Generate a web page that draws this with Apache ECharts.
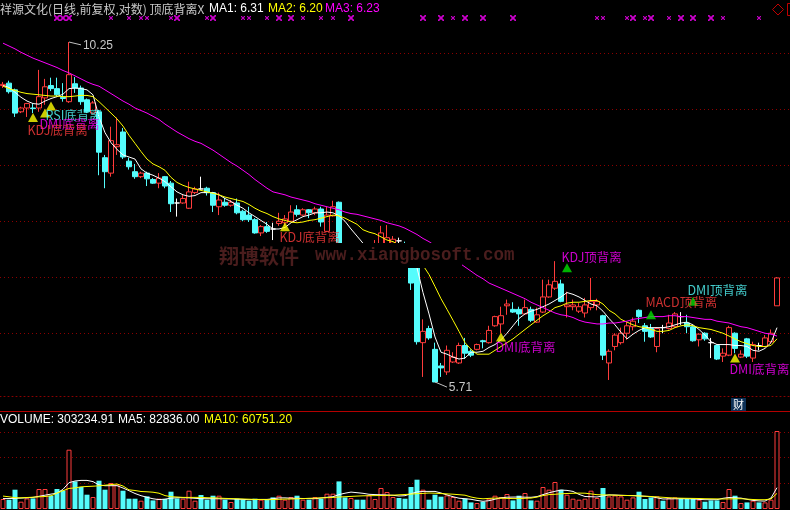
<!DOCTYPE html>
<html><head><meta charset="utf-8">
<script src="https://cdn.jsdelivr.net/npm/echarts@6/dist/echarts.min.js"></script>
<style>html,body{margin:0;padding:0;background:#000;}#c{width:790px;height:510px;}</style>
</head><body><div id="c"></div>
<script>
// ---------- data ----------
const days = Array.from({length: 130}, (_, i) => 'D' + (i + 1));
const opens = [9.51,9.55,9.44,9.09,9.15,9.15,9.15,9.31,9.51,9.46,
9.32,9.25,9.54,9.47,9.28,9.07,9.09,8.40,8.18,8.56,
8.78,8.35,8.20,8.13,8.18,8.09,8.04,8.13,8.04,7.77,
7.77,7.70,7.91,7.96,7.97,7.91,7.72,7.78,7.74,7.77,
7.66,7.61,7.55,7.38,7.46,7.43,7.50,7.51,7.53,7.68,
7.61,7.68,7.64,7.69,7.40,7.60,7.78,7.14,7.00,7.12,
7.07,7.02,7.09,7.17,7.22,7.25,7.28,7.24,7.17,7.02,
6.11,6.26,6.04,5.87,5.81,5.91,5.90,6.08,6.02,6.04,
6.13,6.11,6.29,6.31,6.51,6.47,6.47,6.42,6.47,6.33,
6.44,6.61,6.71,6.76,6.50,6.50,6.45,6.43,6.49,6.52,
6.40,5.90,6.07,6.11,6.21,6.28,6.46,6.29,6.26,6.07,
6.27,6.26,6.28,6.39,6.32,6.28,6.14,6.21,6.11,6.08,
5.97,5.98,6.21,5.96,6.15,5.95,6.08,6.07,6.12,6.51];
const closes = [9.53,9.41,9.07,9.15,9.22,9.14,9.33,9.49,9.46,9.36,
9.30,9.69,9.47,9.25,9.09,9.23,8.48,8.20,8.65,8.59,
8.41,8.27,8.13,8.18,8.10,8.04,8.11,8.00,7.76,7.77,
7.83,7.92,7.96,7.96,7.91,7.74,7.81,7.74,7.78,7.64,
7.55,7.55,7.38,7.46,7.40,7.43,7.53,7.56,7.65,7.62,
7.68,7.64,7.69,7.52,7.61,7.72,7.07,7.02,7.12,7.02,
6.98,7.17,7.20,7.38,7.32,7.30,7.28,7.02,6.77,6.12,
6.23,6.16,5.71,5.85,6.03,5.96,6.08,6.00,5.98,6.09,
6.12,6.24,6.39,6.40,6.53,6.44,6.42,6.49,6.35,6.41,
6.61,6.75,6.79,6.56,6.52,6.52,6.50,6.52,6.56,6.56,
5.98,6.02,6.19,6.21,6.29,6.34,6.39,6.23,6.17,6.26,
6.27,6.32,6.42,6.39,6.28,6.13,6.20,6.15,6.11,5.94,
6.00,6.27,6.05,5.99,5.97,6.09,6.08,6.16,6.21,6.83];
const highs = [9.57,9.59,9.46,9.17,9.23,9.22,9.77,9.62,9.64,9.64,
9.55,10.25,9.65,9.51,9.30,9.26,9.12,8.44,8.86,9.00,
8.84,8.40,8.31,8.20,8.20,8.11,8.18,8.14,8.07,7.83,
7.88,8.06,7.99,8.13,7.99,7.92,7.91,7.84,7.81,7.83,
7.68,7.72,7.57,7.48,7.52,7.51,7.64,7.61,7.74,7.74,
7.70,7.69,7.72,7.72,7.72,7.80,7.79,7.22,7.17,7.14,
7.11,7.22,7.29,7.47,7.48,7.34,7.32,7.27,7.19,7.07,
6.36,6.29,6.11,5.90,6.08,6.01,6.11,6.16,6.04,6.10,
6.14,6.29,6.40,6.50,6.58,6.55,6.50,6.58,6.50,6.49,
6.81,6.81,7.03,6.81,6.67,6.58,6.54,6.60,6.83,6.59,
6.41,6.04,6.21,6.27,6.33,6.38,6.47,6.32,6.31,6.27,
6.30,6.41,6.44,6.44,6.41,6.30,6.21,6.22,6.16,6.09,
6.05,6.29,6.22,6.03,6.16,6.12,6.11,6.19,6.25,6.84];
const lows = [9.47,9.38,9.01,9.07,9.01,9.07,9.09,9.20,9.42,9.33,
9.25,9.23,9.39,9.20,9.07,9.06,8.15,7.97,8.13,8.44,
8.38,8.23,8.10,8.11,8.00,8.03,7.97,7.97,7.65,7.59,
7.76,7.69,7.89,7.95,7.87,7.65,7.61,7.72,7.72,7.62,
7.53,7.52,7.37,7.34,7.38,7.29,7.47,7.47,7.52,7.59,
7.60,7.57,7.61,7.46,7.39,7.59,7.02,6.95,6.95,6.96,
6.95,6.97,7.02,7.09,7.17,7.22,7.17,6.95,6.69,6.09,
5.76,6.14,5.71,5.76,5.78,5.90,5.89,5.94,5.96,6.03,
6.05,6.10,6.28,6.21,6.41,6.43,6.29,6.41,6.33,6.32,
6.43,6.60,6.69,6.55,6.38,6.46,6.43,6.38,6.46,6.46,
5.93,5.73,6.03,6.09,6.14,6.24,6.32,6.12,6.16,6.01,
6.21,6.25,6.27,6.30,6.21,6.12,6.07,6.13,5.95,5.93,
5.91,5.97,6.00,5.95,5.95,5.91,6.03,6.06,6.10,6.51];
const ma1 = [9.51,9.48,9.40,9.32,9.26,9.22,9.21,9.26,9.30,9.33,
9.37,9.46,9.47,9.46,9.44,9.36,9.01,8.77,8.62,8.52,
8.44,8.41,8.38,8.24,8.18,8.15,8.11,8.06,7.99,7.92,
7.88,7.86,7.87,7.91,7.91,7.91,7.88,7.83,7.79,7.74,
7.70,7.64,7.59,7.54,7.49,7.43,7.43,7.45,7.51,7.55,
7.59,7.61,7.64,7.64,7.65,7.64,7.60,7.53,7.43,7.34,
7.25,7.18,7.13,7.11,7.09,7.09,7.08,7.06,7.01,6.95,
6.66,6.42,6.17,6.01,5.99,5.96,5.94,5.95,6.01,6.01,
6.02,6.06,6.09,6.14,6.21,6.29,6.37,6.42,6.45,6.47,
6.50,6.53,6.57,6.61,6.66,6.64,6.61,6.57,6.53,6.51,
6.45,6.37,6.30,6.22,6.15,6.20,6.24,6.27,6.27,6.27,
6.27,6.28,6.30,6.32,6.33,6.30,6.25,6.19,6.12,6.09,
6.09,6.09,6.08,6.08,6.07,6.03,6.02,6.05,6.11,6.27];
const ma2 = [9.50,9.46,9.43,9.40,9.38,9.37,9.36,9.35,9.34,9.34,
9.33,9.33,9.34,9.35,9.35,9.33,9.25,9.16,9.07,8.98,
8.87,8.73,8.61,8.49,8.38,8.31,8.27,8.22,8.12,8.05,
8.01,7.98,7.96,7.94,7.92,7.90,7.88,7.85,7.83,7.81,
7.79,7.75,7.70,7.66,7.63,7.59,7.56,7.54,7.52,7.51,
7.52,7.54,7.55,7.57,7.59,7.61,7.60,7.57,7.53,7.49,
7.42,7.39,7.37,7.33,7.29,7.27,7.23,7.18,7.11,7.04,
6.98,6.87,6.73,6.59,6.47,6.35,6.23,6.11,6.04,5.99,
5.99,5.99,6.03,6.07,6.11,6.15,6.20,6.25,6.30,6.35,
6.40,6.44,6.49,6.51,6.54,6.55,6.55,6.56,6.57,6.57,
6.53,6.46,6.42,6.36,6.33,6.30,6.28,6.27,6.25,6.23,
6.23,6.24,6.27,6.29,6.30,6.29,6.27,6.26,6.25,6.23,
6.21,6.18,6.15,6.12,6.10,6.08,6.07,6.07,6.08,6.15];
const ma3 = [10.23,10.18,10.13,10.07,10.02,9.97,9.93,9.89,9.85,9.81,
9.76,9.72,9.67,9.62,9.57,9.53,9.50,9.44,9.38,9.32,
9.26,9.21,9.15,9.11,9.07,9.02,8.97,8.90,8.84,8.78,
8.73,8.68,8.64,8.61,8.56,8.51,8.45,8.39,8.33,8.28,
8.22,8.16,8.09,8.03,7.97,7.92,7.90,7.88,7.85,7.83,
7.81,7.79,7.76,7.74,7.72,7.70,7.68,7.65,7.63,7.62,
7.60,7.58,7.56,7.54,7.51,7.49,7.47,7.44,7.40,7.36,
7.31,7.27,7.22,7.17,7.12,7.07,7.01,6.96,6.91,6.86,
6.82,6.77,6.74,6.71,6.68,6.65,6.62,6.59,6.55,6.52,
6.49,6.46,6.43,6.41,6.40,6.38,6.35,6.33,6.32,6.31,
6.31,6.32,6.32,6.33,6.34,6.36,6.37,6.38,6.39,6.39,
6.39,6.40,6.40,6.39,6.39,6.38,6.37,6.36,6.36,6.34,
6.33,6.32,6.30,6.28,6.27,6.25,6.23,6.21,6.20,6.18];
const volumes = [38880,36160,75040,28380,41210,41210,77760,77760,51710,77760,
72320,230560,107310,85540,55600,46660,110030,75040,101090,94480,
71150,40050,40050,32270,48990,33440,40050,38880,67260,41210,
40050,71150,32270,54430,36160,51710,51710,36160,27220,40050,
36160,32270,40050,36160,36160,45100,51710,36160,46660,51710,
36160,36160,46660,40050,59490,59490,107310,45100,42770,36160,
36160,52880,38880,81650,66100,46660,42770,40050,85540,113920,
75040,36160,55600,47820,52880,46660,32270,40050,25660,23170,
28380,40050,51710,46660,58320,33440,51710,62210,33440,32270,
85540,75040,104980,75040,55600,40050,36160,40050,71150,42770,
81650,48990,52880,48990,36160,45100,67260,38880,45100,48990,
32270,42770,45100,41210,38880,40050,36160,28380,33440,33440,
27220,77760,51710,23170,25660,32270,25660,25660,36160,303234.91];
const volMa5 = [40400,40800,41200,42400,43500,45100,49400,53700,57900,61400,
76600,102300,108900,111200,111200,106500,93300,90600,90600,90600,
81600,71200,60300,51700,45500,39700,36500,38500,42000,43900,
43900,43200,41600,40000,40000,40000,39700,39300,38900,38100,
37300,36200,36900,37300,37300,40000,43200,43200,42000,41600,
40800,40400,40000,42800,45500,47800,56000,61400,65700,63400,
61000,57200,56000,55200,54400,53300,50500,51700,59500,66100,
68400,68400,68400,62200,54800,47800,42000,40000,37700,33400,
29900,32300,38100,43200,45900,46300,46700,45900,45500,48200,
56000,63000,68800,73500,72300,68400,56800,48600,47800,46700,
50900,54800,54400,53300,52500,52100,51300,49400,48200,43500,
38900,39300,39700,40000,40000,39300,37300,36200,36200,36200,
41600,44700,43500,42400,37700,33400,31500,30700,42800,82836];
const volMa10 = [50200,47400,43900,43500,44700,45900,47400,48600,51300,61800,
71200,80000,82000,86200,87500,88600,90200,92500,94900,97200,
89400,74600,71900,68000,66900,65300,61400,52100,47800,46700,
45100,45100,45100,45100,43900,43200,42400,41200,40400,39700,
38900,38100,37300,36900,36200,36900,37700,38500,38900,39700,
40400,41600,42400,43200,43900,45100,46700,47800,49000,50200,
51300,51700,52100,52500,52900,53700,55200,56400,57900,59500,
60700,62200,61400,59900,58700,57500,55600,53700,46700,42000,
39700,41200,42400,42000,41200,40400,40400,41600,42400,46300,
52100,56000,57200,59100,60300,61000,61800,61400,58700,55600,
54800,54400,53700,52900,52500,51700,50500,49800,48600,47000,
45500,43900,42800,42000,41600,41200,40800,40000,39700,39300,
38900,39300,39700,40000,38500,36900,36200,36200,38900,60751.2];
// signal marks
const bottomTriIdx = [5,7,8,47,83,122];
const bottomTriPrice = [9.00,9.07,9.18,7.46,6.17,5.95];
const topTriIdx = [94,108,115];
const topTriPrice = [6.95,6.41,6.56];
const sigText = ['RSI底背离','DMI底背离','KDJ底背离','KDJ底背离','DMI底背离','KDJ顶背离','MACD顶背离','DMI顶背离','DMI底背离'];
const sigIdx = [7,6,4,46,82,93,107,114,121];
const sigPrice = [9.04,8.90,8.80,7.33,6.06,7.08,6.55,6.69,5.84];
const crossBigIdx = [9,10,11,29,35,46,48,58,70,73,77,80,85,105,108,113,115,118];
const crossSmallIdx = [18,21,23,24,28,34,40,41,44,50,53,55,75,99,100,104,107,111,120,126];
const titleMA = ['6.31','6.20','6.23'];

// ---------- styles ----------
const RED = '#ff3c3c', CYAN = '#54fcfc', MAG = '#ff00ff', YEL = '#ffff00', GRID = '#8c0000';
const sigColors = [CYAN, MAG, RED, RED, MAG, MAG, RED, CYAN, MAG];
const FONT = '"Liberation Sans","Noto Sans CJK SC",sans-serif';
const CJK = '"Noto Sans CJK SC","Liberation Sans",sans-serif';
const WM = '#4a1d1d';
const VMAX = 381024;
const crossPath = 'path://M0 0L2 0L5 3L8 0L10 0L10 2L7 5L10 8L10 10L8 10L5 7L2 10L0 10L0 8L3 5L0 2Z';

const hiIdx = highs.indexOf(Math.max(...highs));
const loIdx = lows.indexOf(Math.min(...lows));

const hidden = {show:false};
const chart = echarts.init(document.getElementById('c'), null, {renderer:'canvas'});
const option = {
  backgroundColor:'#000',
  animation:false,
  grid:[
    {left:0, top:20, width:780, height:376},            // 0 price
    {left:0, right:0, top:53, height:280},             // 1 price grid lines
    {left:0, right:0, top:395, height:1},              // 2 price bottom line
    {left:0, top:13, width:780, height:10},            // 3 cross marks
    {left:0, top:411, width:780, height:98},           // 4 volume
    {left:0, right:0, top:411, height:98}              // 5 volume grid lines
  ],
  xAxis:[
    {type:'category', gridIndex:0, data:days, boundaryGap:true, axisLine:hidden, axisTick:hidden, axisLabel:hidden, splitLine:hidden},
    {type:'value', gridIndex:1, min:0, max:1, show:false},
    {type:'value', gridIndex:2, min:0, max:1, axisLine:{show:true, lineStyle:{color:GRID, type:[1,3]}}, axisTick:hidden, axisLabel:hidden, splitLine:hidden},
    {type:'category', gridIndex:3, data:days, boundaryGap:true, show:false},
    {type:'category', gridIndex:4, data:days, boundaryGap:true, axisLine:hidden, axisTick:hidden, axisLabel:hidden, splitLine:hidden},
    {type:'value', gridIndex:5, position:'top', min:0, max:1, axisLine:{show:true, onZero:false, lineStyle:{color:'#b40000', width:1}}, axisTick:hidden, axisLabel:hidden, splitLine:hidden}
  ],
  yAxis:[
    {type:'log', logBase:10, gridIndex:0, min:5.5741, max:10.6459, axisLine:hidden, axisTick:hidden, axisLabel:hidden, splitLine:hidden},
    {type:'value', gridIndex:1, min:0, max:5, interval:1, axisLine:hidden, axisTick:hidden, axisLabel:hidden, splitLine:{show:true, lineStyle:{color:GRID, type:[1,3]}}},
    {type:'value', gridIndex:2, min:0, max:1, show:false},
    {type:'value', gridIndex:3, min:0, max:2, show:false},
    {type:'value', gridIndex:4, min:0, max:VMAX, axisLine:hidden, axisTick:hidden, axisLabel:hidden, splitLine:hidden},
    {type:'value', gridIndex:5, min:0, max:VMAX, interval:100000, axisLine:hidden, axisTick:hidden, axisLabel:hidden, splitLine:{show:true, showMinLine:false, showMaxLine:false, lineStyle:{color:GRID, type:[1,3]}}}
  ],
  series:[
    {type:'candlestick', xAxisIndex:0, yAxisIndex:0, barWidth:5,
     data: opens.map((o,i)=>[o, closes[i], lows[i], highs[i]]),
     itemStyle:{color:'rgba(0,0,0,0)', color0:CYAN, borderColor:RED, borderColor0:CYAN, borderColorDoji:'#ffffff', borderWidth:1},
     markLine:{silent:true, symbol:['none','none'], animation:false,
       lineStyle:{color:'#c0c0c0', width:1, type:'solid'},
       label:{show:true, position:'end', distance:2, color:'#c8c8c8', fontSize:12, fontFamily:FONT},
       data:[
         [{coord:[hiIdx, highs[hiIdx]], label:{formatter:highs[hiIdx].toFixed(2)}}, {coord:[hiIdx+2, 10.20]}],
         [{coord:[loIdx, lows[loIdx]], label:{formatter:lows[loIdx].toFixed(2)}}, {coord:[loIdx+2, 5.66]}]
       ]}
    },
    {type:'line', name:'MA1', xAxisIndex:0, yAxisIndex:0, data:ma1, symbol:'none', lineStyle:{color:'#ffffff', width:1}},
    {type:'line', name:'MA2', xAxisIndex:0, yAxisIndex:0, data:ma2, symbol:'none', lineStyle:{color:YEL, width:1}},
    {type:'line', name:'MA3', xAxisIndex:0, yAxisIndex:0, data:ma3, symbol:'none', lineStyle:{color:MAG, width:1}},
    {type:'scatter', xAxisIndex:0, yAxisIndex:0, symbol:'triangle', symbolSize:[10,9], itemStyle:{color:YEL},
     data: bottomTriIdx.map((x,k)=>[x, bottomTriPrice[k]]), z:4},
    {type:'scatter', xAxisIndex:0, yAxisIndex:0, symbol:'triangle', symbolSize:[10,9], itemStyle:{color:'#00e000'},
     data: topTriIdx.map((x,k)=>[x, topTriPrice[k]]), z:4},
    {type:'scatter', xAxisIndex:0, yAxisIndex:0, symbolSize:1, itemStyle:{color:'rgba(0,0,0,0)'}, z:5,
     label:{show:true, position:'right', distance:0, fontSize:12.5, fontFamily:CJK,
       formatter:p=>sigText[p.dataIndex]},
     data: sigIdx.map((x,k)=>({value:[x, sigPrice[k]], label:{color:sigColors[k]}}))},
    {type:'scatter', xAxisIndex:3, yAxisIndex:3, symbol:crossPath, symbolSize:6, itemStyle:{color:MAG},
     data: crossBigIdx.map(x=>[x,1])},
    {type:'scatter', xAxisIndex:3, yAxisIndex:3, symbol:crossPath, symbolSize:4, itemStyle:{color:MAG},
     data: crossSmallIdx.map(x=>[x,1])},
    {type:'bar', xAxisIndex:4, yAxisIndex:4, barWidth:5,
     data: volumes.map((v,i)=>({value:v, itemStyle: closes[i] > opens[i]
        ? {color:'#000', borderColor:RED, borderWidth:1}
        : {color:CYAN, borderColor:CYAN, borderWidth:0}}))},
    {type:'line', xAxisIndex:4, yAxisIndex:4, data:volMa5, symbol:'none', lineStyle:{color:'#ffffff', width:1}},
    {type:'line', xAxisIndex:4, yAxisIndex:4, data:volMa10, symbol:'none', lineStyle:{color:YEL, width:1}}
  ],
  graphic:[
    {type:'rect', z:50, shape:{x:215, y:243, width:247, height:25}, style:{fill:'#000'}},
    {type:'text', z:51, x:219, y:256, style:{text:'翔博软件', fill:WM, font:'bold 20px "Noto Sans CJK SC"', verticalAlign:'middle'}},
    {type:'text', z:51, x:315, y:256, style:{text:'www.xiangbosoft.com', fill:WM, font:'bold 17.5px "Liberation Mono"', verticalAlign:'middle'}},
    {type:'text', z:60, x:0, y:9, style:{text:'祥源文化(日线,前复权,对数) 顶底背离X', fill:'#c8c8c8', font:'12px '+CJK, verticalAlign:'middle'}},
    {type:'text', z:60, x:209, y:9, style:{text:'MA1: '+titleMA[0], fill:'#ffffff', font:'12px '+FONT, verticalAlign:'middle'}},
    {type:'text', z:60, x:268, y:9, style:{text:'MA2: '+titleMA[1], fill:YEL, font:'12px '+FONT, verticalAlign:'middle'}},
    {type:'text', z:60, x:325, y:9, style:{text:'MA3: '+titleMA[2], fill:MAG, font:'12px '+FONT, verticalAlign:'middle'}},
    {type:'text', z:60, x:0, y:420, style:{text:'VOLUME: '+volumes[129].toFixed(2), fill:'#ffffff', font:'12px '+FONT, verticalAlign:'middle'}},
    {type:'text', z:60, x:118, y:420, style:{text:'MA5: '+volMa5[129].toFixed(2), fill:'#ffffff', font:'12px '+FONT, verticalAlign:'middle'}},
    {type:'text', z:60, x:204, y:420, style:{text:'MA10: '+volMa10[129].toFixed(2), fill:YEL, font:'12px '+FONT, verticalAlign:'middle'}},
    {type:'polygon', z:60, shape:{points:[[778,4],[783.5,9.5],[778,15],[772.5,9.5]]}, style:{fill:'none', stroke:'#c00000', lineWidth:1}},
    {type:'rect', z:60, shape:{x:787.5, y:3.5, width:8, height:12}, style:{fill:'none', stroke:'#c00000', lineWidth:1}},
    {type:'rect', z:60, shape:{x:731, y:398, width:15, height:13}, style:{fill:'#0d3157'}},
    {type:'text', z:61, x:738.5, y:404.5, style:{text:'财', fill:'#ffffff', font:'11px '+CJK, align:'center', verticalAlign:'middle'}}
  ]
};
chart.setOption(option);
</script>
</body></html>
